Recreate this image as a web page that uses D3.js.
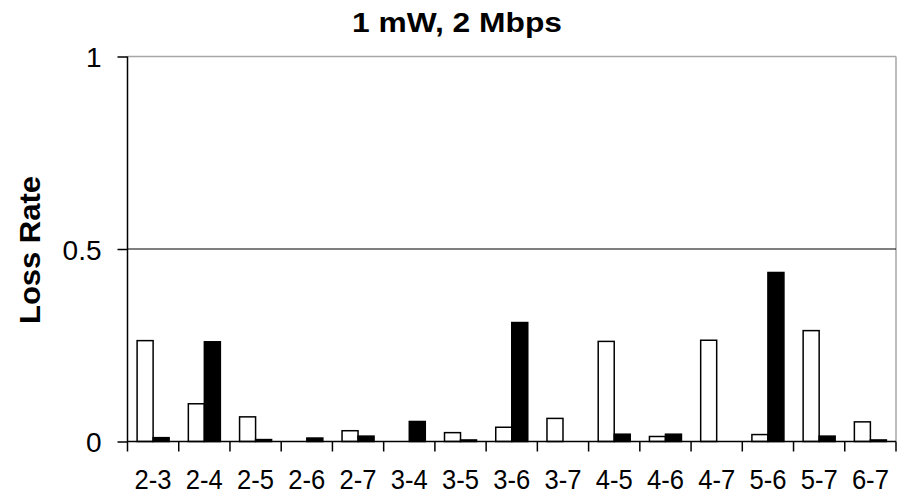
<!DOCTYPE html>
<html><head><meta charset="utf-8">
<script src="https://cdn.jsdelivr.net/npm/d3@7"></script>
<style>body{margin:0;background:#fff}svg{display:block}</style>
</head><body>
<script>
const categories = ["2-3","2-4","2-5","2-6","2-7","3-4","3-5","3-6","3-7","4-5","4-6","4-7","5-6","5-7","6-7"];
const seriesNames = ["white","black"];
const whiteValues = [0.262,0.098,0.064,0,0.028,0,0.023,0.037,0.060,0.260,0.013,0.263,0.018,0.288,0.051];
const blackValues = [0.010,0.259,0.005,0.009,0.014,0.052,0.004,0.309,0,0.019,0.019,0,0.439,0.014,0.004];
const yTicks = [0, 0.5, 1];
const yTickLabels = ["0","0.5","1"];
const title = "1 mW, 2 Mbps";
const yLabel = "Loss Rate";

const W = 897, H = 494;
const m = {left:127.5, right:896, top:56.5, bottom:441.5};
const FONT = "'Liberation Sans', Arial, sans-serif";
const svg = d3.select("body").append("svg").attr("width",W).attr("height",H)
  .style("font-family",FONT);

const x = d3.scaleBand().domain(categories).range([m.left, m.right]).paddingInner(0).paddingOuter(0);
const x1 = d3.scaleBand().domain(seriesNames).range([0, x.bandwidth()]).paddingInner(0).paddingOuter(0.6);
const y = d3.scaleLinear().domain([0,1]).range([m.bottom, m.top]);

// plot frame (gray top/right)
svg.append("line").attr("x1",m.left).attr("x2",m.right).attr("y1",m.top).attr("y2",m.top).attr("stroke","#a6a6a6").attr("stroke-width",1.5);
svg.append("line").attr("x1",m.right).attr("x2",m.right).attr("y1",m.top).attr("y2",m.bottom).attr("stroke","#a6a6a6").attr("stroke-width",1.5);
// gridline 0.5
svg.append("line").attr("x1",m.left).attr("x2",m.right).attr("y1",y(0.5)).attr("y2",y(0.5)).attr("stroke","#000").attr("stroke-width",1.2);

// bars
const data = categories.map((c,i)=>({c, vals:[{s:"white",v:whiteValues[i]},{s:"black",v:blackValues[i]}]}));
const g = svg.append("g");
g.selectAll("g.cat").data(data).join("g").attr("transform",d=>`translate(${x(d.c)},0)`)
  .selectAll("rect").data(d=>d.vals.filter(e=>e.v>0)).join("rect")
  .attr("x",d=>x1(d.s)).attr("width",x1.bandwidth())
  .attr("y",d=>y(d.v)).attr("height",d=>y(0)-y(d.v))
  .attr("fill",d=>d.s==="white"?"#fff":"#000").attr("stroke","#000").attr("stroke-width",1.5);

// y axis
const yAxis = d3.axisLeft(y).tickValues(yTicks).tickFormat((d,i)=>yTickLabels[i]).tickSize(10).tickPadding(16);
const ya = svg.append("g").attr("transform",`translate(${m.left},0)`).call(yAxis);
ya.select(".domain").remove();
ya.append("line").attr("x1",0).attr("x2",0).attr("y1",m.top).attr("y2",m.bottom+10).attr("stroke","#000").attr("stroke-width",1.5);
ya.selectAll(".tick line").attr("stroke","#000").attr("stroke-width",1.5);
ya.selectAll(".tick text").attr("font-size",28).attr("fill","#000").attr("font-family",FONT)
  .attr("x",-26).attr("dy","0.36em");

// x axis
const xAxis = d3.axisBottom(x).tickSize(0).tickPadding(0);
const xa = svg.append("g").attr("transform",`translate(0,${m.bottom})`).call(xAxis);
xa.select(".domain").remove();
xa.append("line").attr("x1",m.left).attr("x2",m.right).attr("y1",0).attr("y2",0).attr("stroke","#000").attr("stroke-width",1.5);
xa.selectAll(".tick text").attr("font-size",27).attr("fill","#000").attr("y",47).attr("dy",0).attr("font-family",FONT)
  .attr("textLength",37).attr("lengthAdjust","spacingAndGlyphs");
xa.selectAll("line.bnd").data(categories.slice(1).concat(["_end"])).join("line").attr("class","bnd")
  .attr("x1",(d,i)=>x(categories[0])+x.step()*(i+1)).attr("x2",(d,i)=>x(categories[0])+x.step()*(i+1))
  .attr("y1",0).attr("y2",10).attr("stroke","#000").attr("stroke-width",1.5);

// title
svg.append("text").attr("x",457).attr("y",32).attr("text-anchor","middle")
  .attr("font-size",27).attr("font-weight","bold").attr("fill","#000")
  .attr("textLength",210).attr("lengthAdjust","spacingAndGlyphs").text(title);
// y label
svg.append("text").attr("transform",`translate(40,${250}) rotate(-90)`).attr("text-anchor","middle")
  .attr("font-size",30).attr("font-weight","bold").attr("fill","#000")
  .attr("textLength",148).attr("lengthAdjust","spacingAndGlyphs").text(yLabel);
</script>
</body></html>
